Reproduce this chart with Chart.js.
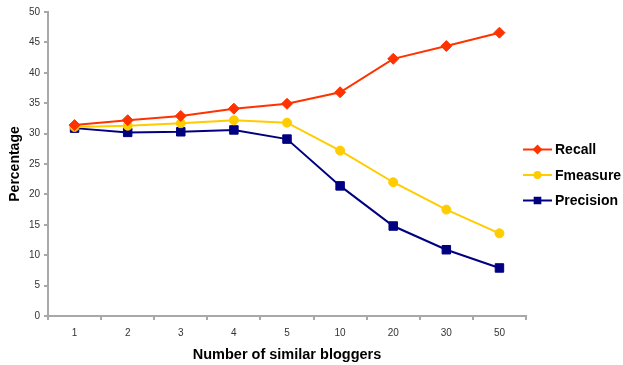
<html><head><title>Similar bloggers</title>
<script src="https://cdn.jsdelivr.net/npm/chart.js"></script>
<style>
  body { margin: 0; background: #fff; }
  #wrap { width: 623px; height: 365px; position: relative; }
</style>
</head>
<body>
<div id="wrap"><canvas id="chart" width="623" height="365"></canvas></div>
<script>
const categories = ['1', '2', '3', '4', '5', '10', '20', '30', '50'];
const recall = [31.4, 32.2, 32.9, 34.1, 34.9, 36.8, 42.3, 44.4, 46.6];
const fmeasure = [31.1, 31.3, 31.7, 32.2, 31.8, 27.2, 22.0, 17.5, 13.6];
const precision = [30.9, 30.2, 30.3, 30.6, 29.1, 21.4, 14.8, 10.9, 7.9];
const yTicks = [0, 5, 10, 15, 20, 25, 30, 35, 40, 45, 50];

const series = [
  { label: 'Recall', data: recall, color: '#ff3300', style: 'rectRot', r: 5.5, lr: 3.5 },
  { label: 'Fmeasure', data: fmeasure, color: '#ffcc00', style: 'circle', r: 4.5, lr: 3 },
  { label: 'Precision', data: precision, color: '#000080', style: 'rect', r: 6, lr: 4 }
];

const axisGray = '#a8a8a8';

// legend drawn at the right, line + small marker like the original
const sideLegend = {
  id: 'sideLegend',
  afterDraw(chart) {
    const ctx = chart.ctx;
    const x0 = chart.chartArea.right - 3;
    let y = 149.5;
    ctx.save();
    series.forEach(s => {
      ctx.strokeStyle = s.color;
      ctx.lineWidth = 2;
      ctx.beginPath();
      ctx.moveTo(x0, y);
      ctx.lineTo(x0 + 29, y);
      ctx.stroke();
      ctx.fillStyle = s.color;
      Chart.helpers.drawPoint(ctx, { pointStyle: s.style, radius: s.lr, rotation: 0, borderWidth: 1 }, x0 + 14.5, y);
      ctx.fillStyle = '#000';
      ctx.font = 'bold 14px "Liberation Sans", Arial';
      ctx.textBaseline = 'middle';
      ctx.fillText(s.label, x0 + 32, y + 1);
      y += 25.5;
    });
    ctx.restore();
  }
};

new Chart(document.getElementById('chart'), {
  type: 'line',
  data: {
    labels: categories,
    datasets: series.map(s => ({
      label: s.label,
      data: s.data,
      borderColor: s.color,
      backgroundColor: s.color,
      borderWidth: 2,
      pointStyle: s.style,
      pointRadius: s.r,
      pointBorderWidth: 1,
      tension: 0
    }))
  },
  options: {
    responsive: false,
    animation: false,
    layout: { padding: { top: 12, right: 97, left: 0, bottom: 0 } },
    plugins: { legend: { display: false }, tooltip: { enabled: false } },
    scales: {
      x: {
        offset: true,
        grid: { offset: true, drawOnChartArea: false, drawTicks: true, tickLength: 4, color: axisGray, lineWidth: 2 },
        border: { color: axisGray, width: 2 },
        ticks: { color: '#333', font: { family: '"Liberation Sans", Arial', size: 10 }, padding: 7 },
        title: { display: true, text: 'Number of similar bloggers', color: '#000',
          font: { family: '"Liberation Sans", Arial', size: 14.5, weight: 'bold' }, padding: { top: 0, bottom: 1 } },
        afterFit: s => { s.height = 49; }
      },
      y: {
        min: 0, max: 50,
        afterBuildTicks: s => { s.ticks = yTicks.map(v => ({ value: v })); },
        grid: { drawOnChartArea: false, drawTicks: true, tickLength: 4, color: axisGray, lineWidth: 2 },
        border: { color: axisGray, width: 2 },
        ticks: { color: '#333', font: { family: '"Liberation Sans", Arial', size: 10 }, padding: 4 },
        title: { display: true, text: 'Percentage', color: '#000',
          font: { family: '"Liberation Sans", Arial', size: 14, weight: 'bold' }, padding: { top: 7 } },
        afterFit: s => { s.width = 48; }
      }
    }
  },
  plugins: [sideLegend]
});
</script>
</body></html>
